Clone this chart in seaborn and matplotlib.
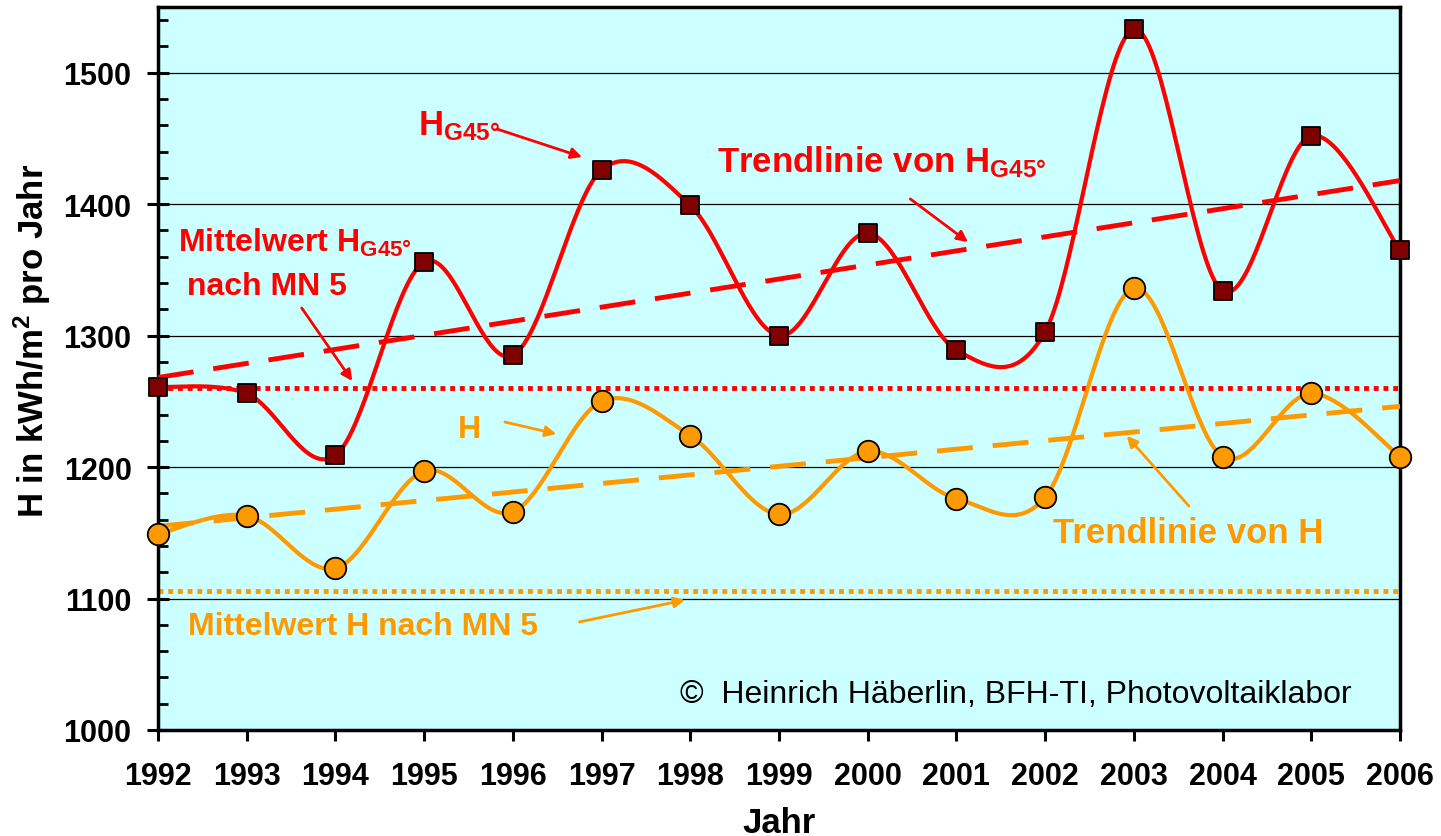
import numpy as np
import pandas as pd
import seaborn as sns
import matplotlib.pyplot as plt

# Jahreswerte der Einstrahlung (kWh/m2 pro Jahr)
jahre = list(range(1992, 2007))
h_g45 = [1261, 1256, 1209, 1356, 1285, 1426, 1399, 1300, 1378, 1289, 1303, 1533, 1334, 1452, 1365]
h_hor = [1149, 1163, 1123, 1197, 1166, 1250, 1224, 1164, 1212, 1176, 1177, 1336, 1208, 1256, 1208]
# Mittelwerte nach MN 5
mittel_g45 = 1260
mittel_h = 1106

ROT = "#FF0000"
ORANGE = "#FF9900"
DUNKELROT = "#800000"
HINTERGRUND = "#CCFFFF"

sns.set_style("ticks")
plt.rcParams["font.family"] = ["Liberation Sans", "DejaVu Sans"]
plt.rcParams["mathtext.fontset"] = "custom"
plt.rcParams["mathtext.rm"] = "Liberation Sans:bold"
plt.rcParams["mathtext.it"] = "Liberation Sans:bold"
plt.rcParams["mathtext.bf"] = "Liberation Sans:bold"
for k in ["text.color", "axes.labelcolor", "xtick.color", "ytick.color"]:
    plt.rcParams[k] = "black"


def glatt(x, y, n=40):
    # geglaettete Linie wie in Excel (Bezier mit Nachbarpunkten)
    x = np.asarray(x, float)
    y = np.asarray(y, float)
    px = np.concatenate([[x[0]], x, [x[-1]]])
    py = np.concatenate([[y[0]], y, [y[-1]]])
    t = np.linspace(0, 1, n)
    xs, ys = [], []
    for i in range(len(x) - 1):
        p0 = np.array([px[i + 1], py[i + 1]])
        p3 = np.array([px[i + 2], py[i + 2]])
        c1 = p0 + (p3 - np.array([px[i], py[i]])) / 6
        c2 = p3 - (np.array([px[i + 3], py[i + 3]]) - p0) / 6
        for k in range(2):
            b = ((1 - t) ** 3 * p0[k] + 3 * (1 - t) ** 2 * t * c1[k]
                 + 3 * (1 - t) * t ** 2 * c2[k] + t ** 3 * p3[k])
            (xs if k == 0 else ys).append(b)
    return pd.DataFrame({"x": np.concatenate(xs), "y": np.concatenate(ys)})


fig = plt.figure(figsize=(14.41, 8.37), dpi=100)
ax = fig.add_axes([158 / 1441, 1 - 731 / 837, 1242 / 1441, 723 / 837])
ax.set_facecolor(HINTERGRUND)

df = pd.DataFrame({"Jahr": jahre, "HG45": h_g45, "H": h_hor})

# Mittelwerte (punktiert)
for wert, farbe in [(mittel_g45, ROT), (mittel_h, ORANGE)]:
    ax.plot([jahre[0], jahre[-1]], [wert, wert], color=farbe, lw=3.5,
            dashes=(1, 1), dash_capstyle="butt", zorder=2)

# Trendlinien
for spalte, farbe in [("HG45", ROT), ("H", ORANGE)]:
    k, d = np.polyfit(df["Jahr"], df[spalte], 1)
    tr = pd.DataFrame({"x": [jahre[0], jahre[-1]], "y": [k * jahre[0] + d, k * jahre[-1] + d]})
    sns.lineplot(data=tr, x="x", y="y", ax=ax, color=farbe, lw=3.5, zorder=3)
    ax.lines[-1].set_dashes((7.4, 4.1))
    ax.lines[-1].set_dash_capstyle("butt")

# geglaettete Kurven
sns.lineplot(data=glatt(jahre, h_g45), x="x", y="y", ax=ax, sort=False,
             color=ROT, lw=3, zorder=4)
sns.lineplot(data=glatt(jahre, h_hor), x="x", y="y", ax=ax, sort=False,
             color=ORANGE, lw=3, zorder=4)

# Datenpunkte
sns.scatterplot(data=df, x="Jahr", y="HG45", ax=ax, marker="s", s=175,
                color=DUNKELROT, edgecolor="black", linewidth=1.3, zorder=5, clip_on=False)
sns.scatterplot(data=df, x="Jahr", y="H", ax=ax, marker="o", s=240,
                color=ORANGE, edgecolor="black", linewidth=1.3, zorder=5, clip_on=False)

ax.set_xlim(1992, 2006)
ax.set_ylim(1000, 1550)
ax.set_xticks(jahre)
ax.set_yticks(range(1000, 1501, 100))
ax.set_yticks(range(1000, 1551, 20), minor=True)
ax.yaxis.grid(True, which="major", color="black", lw=0.9)
ax.set_axisbelow(True)

for s in ax.spines.values():
    s.set_color("black")
    s.set_linewidth(2.5)

ax.tick_params(axis="x", which="major", direction="out", length=8, width=2.2,
               labelsize=22, pad=14)
ax.tick_params(axis="y", which="major", direction="inout", length=16, width=2.2,
               labelsize=22, pad=11)
ax.tick_params(axis="y", which="minor", direction="in", length=7, width=2)
for lab in ax.get_xticklabels() + ax.get_yticklabels():
    lab.set_fontweight("bold")

ax.set_xlabel("Jahr", fontsize=25, fontweight="bold", labelpad=11)
ax.set_ylabel(r"H in kWh/m$^{2}$ pro Jahr", fontsize=25, fontweight="bold")
ax.yaxis.set_label_coords(-0.0846, 0.539)

# Beschriftungen
txt = dict(fontweight="bold", va="baseline", ha="left")
ax.text(1994.93, 1453.4, r"H$_{\mathrm{G45°}}$", color=ROT, fontsize=25, **txt)
ax.text(1998.30, 1425.3, r"Trendlinie von H$_{\mathrm{G45°}}$", color=ROT, fontsize=25, **txt)
ax.text(1992.23, 1364.4, r"Mittelwert H$_{\mathrm{G45°}}$", color=ROT, fontsize=23, **txt)
ax.text(1992.33, 1331.7, "nach MN 5", color=ROT, fontsize=23, **txt)
ax.text(1995.38, 1222.9, "H", color=ORANGE, fontsize=23, **txt)
ax.text(1992.34, 1073.0, "Mittelwert H nach MN 5", color=ORANGE, fontsize=23, **txt)
ax.text(2002.09, 1143.0, "Trendlinie von H", color=ORANGE, fontsize=25, **txt)
ax.text(1997.88, 1021.3, "©  Heinrich Häberlin, BFH-TI, Photovoltaiklabor",
        color="black", fontsize=23, va="baseline", ha="left")

pfeile = [
    ((1995.82, 1457.2), (1996.78, 1435.9), ROT),
    ((2000.48, 1404.0), (2001.13, 1371.2), ROT),
    ((1993.62, 1321.0), (1994.19, 1265.5), ROT),
    ((1995.91, 1234.3), (1996.49, 1225.2), ORANGE),
    ((1996.75, 1082.2), (1997.94, 1098.9), ORANGE),
    ((2003.62, 1170.4), (2002.92, 1223.7), ORANGE),
]
for start, ziel, farbe in pfeile:
    ax.annotate("", xy=ziel, xytext=start,
                arrowprops=dict(arrowstyle="-|>", color=farbe, lw=2,
                                mutation_scale=16, shrinkA=0, shrinkB=0))

fig.savefig("out.png", dpi=100)
